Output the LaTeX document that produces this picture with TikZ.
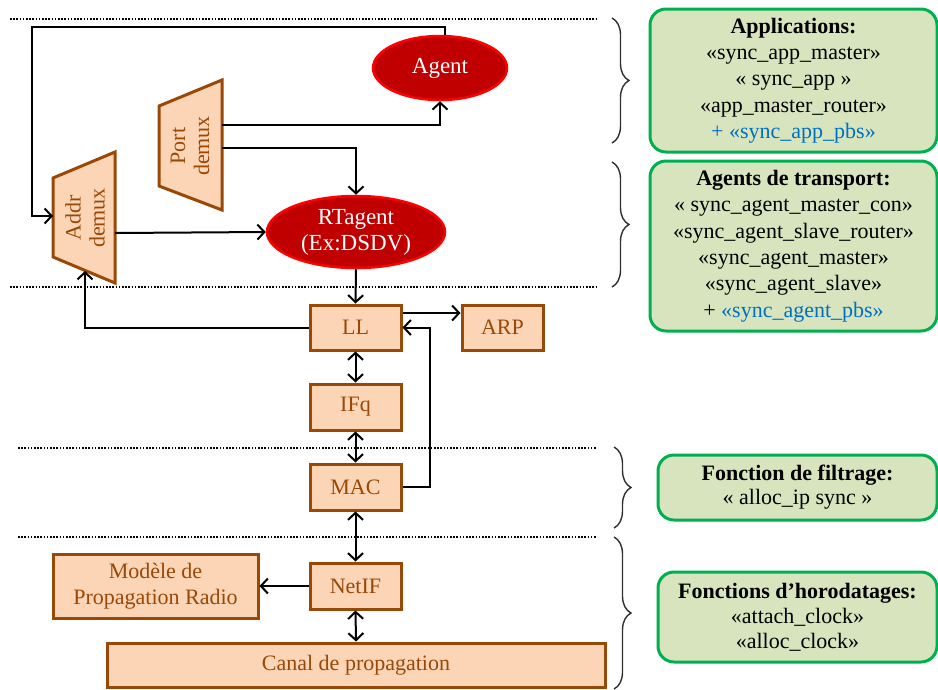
\documentclass[tikz,border=0pt]{standalone}
\usepackage{fontspec}
\setmainfont{Liberation Serif}
\usetikzlibrary{arrows.meta,decorations.pathreplacing,shapes.geometric}
\definecolor{boxfill}{HTML}{FBD5B5}
\definecolor{boxdraw}{HTML}{984807}
\definecolor{redfill}{HTML}{C00000}
\definecolor{reddraw}{HTML}{FF0000}
\definecolor{greenfill}{HTML}{D7E4BD}
\definecolor{greendraw}{HTML}{00B050}
\definecolor{bluetxt}{HTML}{0070C0}
\definecolor{bracecol}{HTML}{303030}
\begin{document}
\begin{tikzpicture}[x=1pt,y=-1pt,
  blk/.style={draw=boxdraw,fill=boxfill,line width=3pt,text=boxdraw,
    font=\fontsize{22}{26}\selectfont,inner sep=0pt,align=center},
  trap/.style={draw=boxdraw,fill=boxfill,line width=3pt,line join=miter},
  traptxt/.style={text=boxdraw,font=\fontsize{22}{24}\selectfont,align=center,rotate=90,inner sep=0pt},
  ell/.style={ellipse,draw=reddraw,fill=redfill,line width=2.5pt,text=white,
    font=\fontsize{23}{26}\selectfont,inner sep=0pt,align=center},
  gbox/.style={draw=greendraw,fill=greenfill,line width=3pt,rounded corners=16pt,
    font=\fontsize{22}{26.3}\selectfont,align=center,inner sep=0pt},
  conn/.style={line width=2pt,draw=black,-{Straight Barb[length=7pt,width=15pt,line width=2pt]}},
  dconn/.style={line width=2pt,draw=black,{Straight Barb[length=7pt,width=15pt,line width=2pt]}-{Straight Barb[length=7pt,width=15pt,line width=2pt]}},
  dotline/.style={line width=1.8pt,dash pattern=on 1.6pt off 1.6pt},
  brc/.style={draw=bracecol,line width=1.4pt,decorate,decoration={brace,amplitude=17pt,aspect=0.5}},
  ]
\useasboundingbox (0,0) rectangle (938,689);

% dotted separators
\draw[dotline] (10,19) -- (597,19);
\draw[dotline] (10,287) -- (597,287);
\draw[dotline] (18,448) -- (597,448);
\draw[dotline] (18,537) -- (597,537);

% braces
\draw[brc] (612,18) -- (612,143);
\draw[brc] (612,162) -- (612,287);
\draw[brc] (614,447) -- (614,528);
\draw[brc] (614,537) -- (614,689);

% trapezoids
\draw[trap] (159,106) -- (222,80) -- (222,210) -- (159,186) -- cycle;
\node[traptxt] (pd) at (190,146) {Port\\demux};
\draw[trap] (53,178) -- (115,152) -- (115,283) -- (53,257) -- cycle;
\node[traptxt] (ad) at (85,218) {Addr\\demux};
\coordinate (pdo1) at (222,125);
\coordinate (pdo2) at (222,148);
\coordinate (adin) at (53,216);
\coordinate (ado) at (115,233);
\coordinate (adb) at (85,271);
\coordinate (ltop) at (32,27);

% ellipses
\node[ell,minimum width=134pt,minimum height=64pt] (ag) at (440,68) {Agent};
\node[ell,minimum width=178pt,minimum height=72pt] (rt) at (356,232) {RTagent\\(Ex:DSDV)};

% boxes
\node[blk,minimum width=91pt,minimum height=45pt] (LL) at (355.5,327.5) {LL};
\node[blk,minimum width=81pt,minimum height=45pt] (ARP) at (502.5,327.5) {ARP};
\node[blk,minimum width=91pt,minimum height=46pt] (IFq) at (355.5,407) {IFq};
\node[blk,minimum width=91pt,minimum height=46pt] (MAC) at (355.5,487) {MAC};
\node[blk,minimum width=91pt,minimum height=46pt] (NetIF) at (355.5,586) {NetIF};
\node[blk,minimum width=205pt,minimum height=64pt] (Mod) at (155.5,586) {Modèle de\\Propagation Radio};
\node[blk,minimum width=498pt,minimum height=44pt] (Canal) at (356,665) {Canal de propagation};

% connectors
\draw[conn] ([xshift=5pt]ag.north) |- (ltop) |- (adin);
\draw[conn] (pdo1) -| (ag.south);
\draw[conn] (pdo2) -| (rt.north);
\draw[conn] (ado) -- (rt.west);
\draw[conn] (rt.south) -- (LL.north);
\draw[conn] (LL.west) -| (adb);
\draw[conn] ([yshift=14.5pt]LL.east) -- ([yshift=14.5pt]LL.east -| ARP.west);
\draw[conn] (MAC.east) -- ++(27,0) |- (LL.east);
\draw[dconn] (LL.south) -- (IFq.north);
\draw[dconn] (IFq.south) -- (MAC.north);
\draw[dconn] (MAC.south) -- (NetIF.north);
\draw[conn] (NetIF.west) -- (Mod.east);
\draw[dconn] (NetIF.south) -- (Canal.north);

% green boxes
\node[gbox,minimum width=287pt,minimum height=143pt] (app) at (793.5,80.5)
  {\textbf{Applications:}\\«sync\_app\_master»\\« sync\_app »\\«app\_master\_router»\\\textcolor{bluetxt}{+ «sync\_app\_pbs»}};
\node[gbox,minimum width=287pt,minimum height=170pt] (agt) at (793.5,246)
  {\textbf{Agents de transport:}\\« sync\_agent\_master\_con»\\«sync\_agent\_slave\_router»\\«sync\_agent\_master»\\«sync\_agent\_slave»\\+ \textcolor{bluetxt}{«sync\_agent\_pbs»}};
\node[gbox,minimum width=279pt,minimum height=65pt,font=\fontsize{22}{24}\selectfont] (filt) at (797.5,487.5)
  {\textbf{Fonction de filtrage:}\\« alloc\_ip sync »};
\node[gbox,minimum width=279pt,minimum height=90pt,font=\fontsize{22}{25}\selectfont] (horo) at (797.5,617)
  {\textbf{Fonctions d’horodatages:}\\«attach\_clock»\\«alloc\_clock»};
\end{tikzpicture}
\end{document}
